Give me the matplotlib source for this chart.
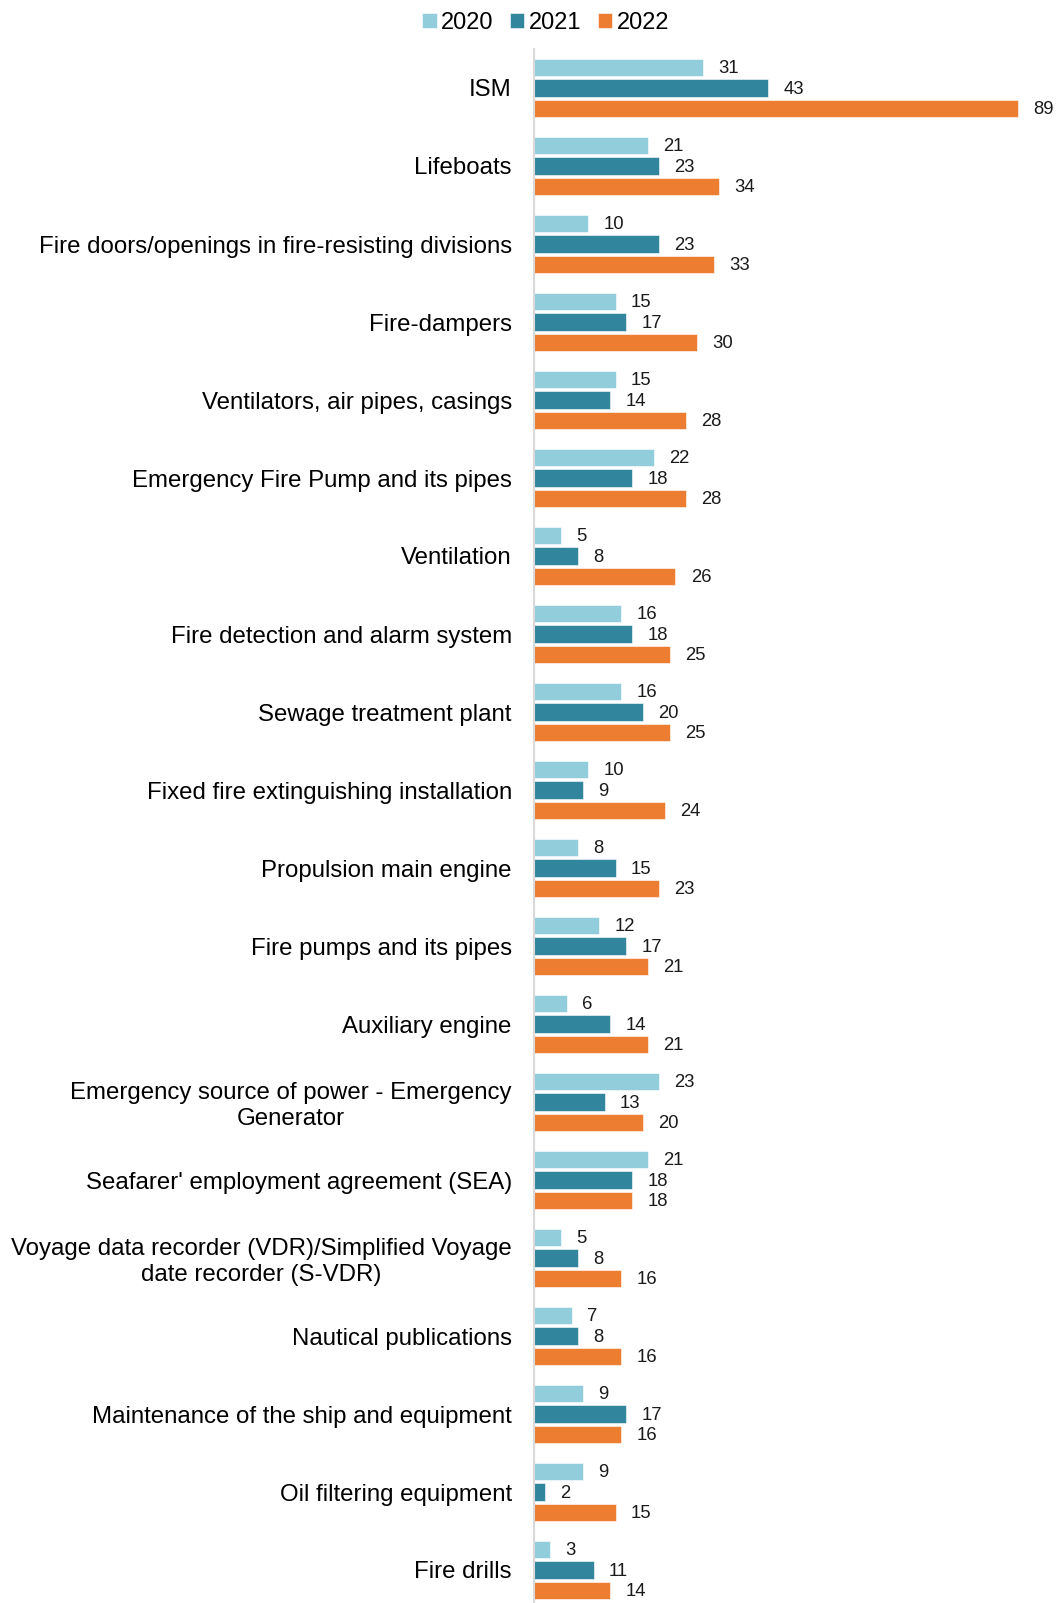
import numpy as np
import matplotlib
matplotlib.use('Agg')
import matplotlib.pyplot as plt

plt.rcParams['font.family'] = ['Liberation Sans', 'DejaVu Sans']

categories = [
    'ISM',
    'Lifeboats',
    'Fire doors/openings in fire-resisting divisions',
    'Fire-dampers',
    'Ventilators, air pipes, casings',
    'Emergency Fire Pump and its pipes',
    'Ventilation',
    'Fire detection and alarm system',
    'Sewage treatment plant',
    'Fixed fire extinguishing installation',
    'Propulsion main engine',
    'Fire pumps and its pipes',
    'Auxiliary engine',
    'Emergency source of power - Emergency\nGenerator',
    "Seafarer' employment agreement (SEA)",
    'Voyage data recorder (VDR)/Simplified Voyage\ndate recorder (S-VDR)',
    'Nautical publications',
    'Maintenance of the ship and equipment',
    'Oil filtering equipment',
    'Fire drills',
]
years = ['2020', '2021', '2022']
v2020 = [31, 21, 10, 15, 15, 22, 5, 16, 16, 10, 8, 12, 6, 23, 21, 5, 7, 9, 9, 3]
v2021 = [43, 23, 23, 17, 14, 18, 8, 18, 20, 9, 15, 17, 14, 13, 18, 8, 8, 17, 2, 11]
v2022 = [89, 34, 33, 30, 28, 28, 26, 25, 25, 24, 23, 21, 21, 20, 18, 16, 16, 16, 15, 14]

colors = ['#92CDDC', '#31859C', '#ED7D31']

W, H = 1061, 1603
fig = plt.figure(figsize=(W / 100, H / 100), dpi=100)
ax_left = 534 / W
ax_top = 49 / H
ax = fig.add_axes([ax_left, 0, 1 - ax_left, 1 - ax_top])

y = np.arange(len(categories))
pitch = 0.263
height = 0.224
series = [v2020, v2021, v2022]
for k, (vals, col, lab) in enumerate(zip(series, colors, years)):
    pos = y + (k - 1) * pitch
    ax.barh(pos, vals, height=height, color=col, label=lab,
            edgecolor='white', linewidth=0.4)
    for p, v in zip(pos, vals):
        ax.annotate(str(v), (v, p), xytext=(11, -1), textcoords='offset points',
                    ha='left', va='center', fontsize=13.3, color='#1a1a1a')

ax.set_xlim(0, (W - 534) / 5.44)
ax.set_ylim(19.5 - 6 / 78, -0.5)
ax.set_yticks(y)
ax.set_yticklabels(categories, fontsize=17.25, multialignment='center')
ax.tick_params(axis='y', length=0, pad=16)
ax.set_xticks([])
for s in ['top', 'right', 'bottom']:
    ax.spines[s].set_visible(False)
ax.spines['left'].set_color('#D9D9D9')
ax.spines['left'].set_linewidth(1.5)

fig.legend(loc='center', bbox_to_anchor=(546 / W, 1 - 23 / H), ncol=3,
           frameon=False, fontsize=17, handlelength=0.6, handleheight=0.6,
           handletextpad=0.2, columnspacing=0.7)

fig.savefig('out.png', dpi=100)
